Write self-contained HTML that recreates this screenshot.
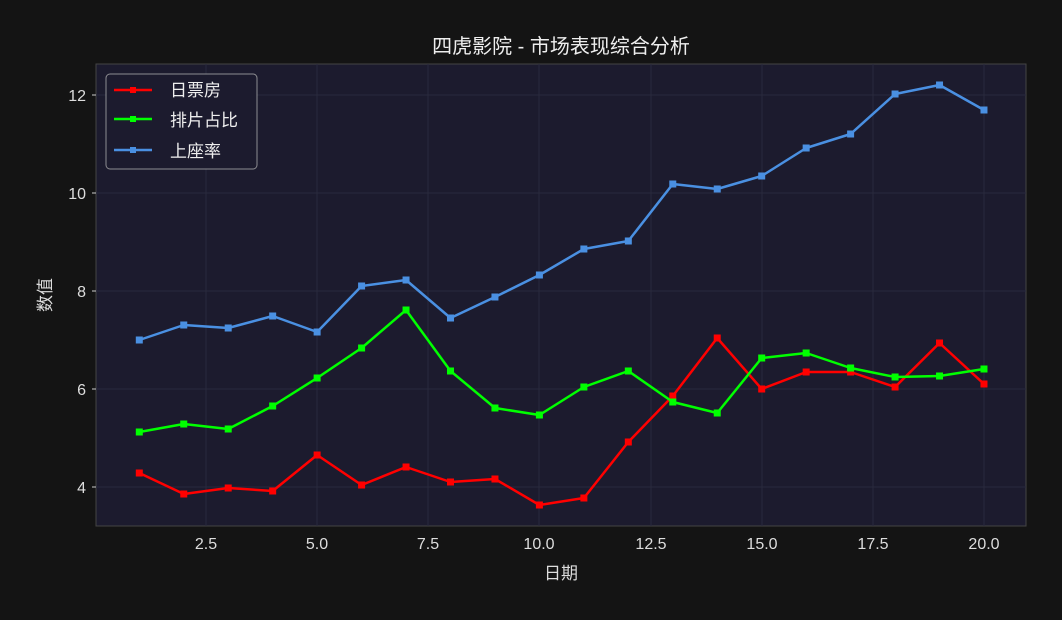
<!DOCTYPE html>
<html><head><meta charset="utf-8"><style>
body{margin:0;background:#141414;}
svg{display:block;font-family:"Liberation Sans","Noto Sans CJK SC",sans-serif;}
</style></head><body>
<svg width="1062" height="620" viewBox="0 0 1062 620">
<rect width="1062" height="620" fill="#141414"/>
<rect x="96" y="64" width="930" height="462" fill="#1c1b2e" stroke="#444" stroke-width="1"/>
<g stroke="#29293d" stroke-width="1">
<line x1="206" y1="64" x2="206" y2="526"/><line x1="317" y1="64" x2="317" y2="526"/>
<line x1="428" y1="64" x2="428" y2="526"/><line x1="539" y1="64" x2="539" y2="526"/>
<line x1="651" y1="64" x2="651" y2="526"/><line x1="762" y1="64" x2="762" y2="526"/>
<line x1="873" y1="64" x2="873" y2="526"/><line x1="984" y1="64" x2="984" y2="526"/>
<line x1="96" y1="95" x2="1026" y2="95"/><line x1="96" y1="193" x2="1026" y2="193"/>
<line x1="96" y1="291" x2="1026" y2="291"/><line x1="96" y1="389" x2="1026" y2="389"/>
<line x1="96" y1="487" x2="1026" y2="487"/>
</g>
<g fill="#ddd" font-size="16" text-anchor="middle">
<text x="206" y="549">2.5</text><text x="317" y="549">5.0</text><text x="428" y="549">7.5</text>
<text x="539" y="549">10.0</text><text x="651" y="549">12.5</text><text x="762" y="549">15.0</text>
<text x="873" y="549">17.5</text><text x="984" y="549">20.0</text>
</g>
<g fill="#ddd" font-size="16" text-anchor="end">
<text x="86" y="101">12</text><text x="86" y="199">10</text><text x="86" y="297">8</text>
<text x="86" y="395">6</text><text x="86" y="493">4</text>
</g>
<g stroke="#ccc"><line x1="92" y1="95" x2="96" y2="95"/><line x1="92" y1="193" x2="96" y2="193"/><line x1="92" y1="291" x2="96" y2="291"/><line x1="92" y1="389" x2="96" y2="389"/><line x1="92" y1="487" x2="96" y2="487"/></g>
<text x="561" y="579" fill="#ddd" font-size="17" text-anchor="middle">日期</text>
<text transform="translate(51,295) rotate(-90)" fill="#ddd" font-size="17" text-anchor="middle">数值</text>
<text x="561" y="53" fill="#eee" font-size="20" text-anchor="middle">四虎影院 - 市场表现综合分析</text>
<g id="lines" fill="none" stroke-width="2.5" stroke-linejoin="round"></g>
<g>
<rect x="106" y="74" width="151" height="95" rx="4" fill="#1c1b2e" stroke="#aaa" stroke-opacity="0.8"/>
<line x1="114" y1="90" x2="152" y2="90" stroke="#ff0000" stroke-width="2.5"/><rect x="130" y="87" width="6" height="6" fill="#ff0000"/>
<line x1="114" y1="119" x2="152" y2="119" stroke="#00ff00" stroke-width="2.5"/><rect x="130" y="116" width="6" height="6" fill="#00ff00"/>
<line x1="114" y1="150" x2="152" y2="150" stroke="#4a90e2" stroke-width="2.5"/><rect x="130" y="147" width="6" height="6" fill="#4a90e2"/>
<g fill="#eee" font-size="17"><text x="170" y="96">日票房</text><text x="170" y="126">排片占比</text><text x="170" y="157">上座率</text></g>
</g>
<script>
var xs=[];for(var i=1;i<=20;i++)xs.push(139.3+(i-1)*44.457);
var S=[["#ff0000",[473,494,488,491,455,485,467,482,479,505,498,442,396,338,389,372,372,387,343,384]],
["#00ff00",[432,424,429,406,378,348,310,371,408,415,387,371,402,413,358,353,368,377,376,369]],
["#4a90e2",[340,325,328,316,332,286,280,318,297,275,249,241,184,189,176,148,134,94,85,110]]];
var g=document.getElementById('lines'),ns="http://www.w3.org/2000/svg";
S.forEach(function(s){var p=document.createElementNS(ns,'polyline');
p.setAttribute('points',s[1].map(function(y,i){return xs[i].toFixed(1)+','+y}).join(' '));
p.setAttribute('stroke',s[0]);g.appendChild(p);
s[1].forEach(function(y,i){var r=document.createElementNS(ns,'rect');r.setAttribute('x',xs[i]-3.5);r.setAttribute('y',y-3.5);r.setAttribute('width',7);r.setAttribute('height',7);r.setAttribute('fill',s[0]);r.setAttribute('stroke','none');g.appendChild(r);});});
</script>
</svg>
</body></html>
